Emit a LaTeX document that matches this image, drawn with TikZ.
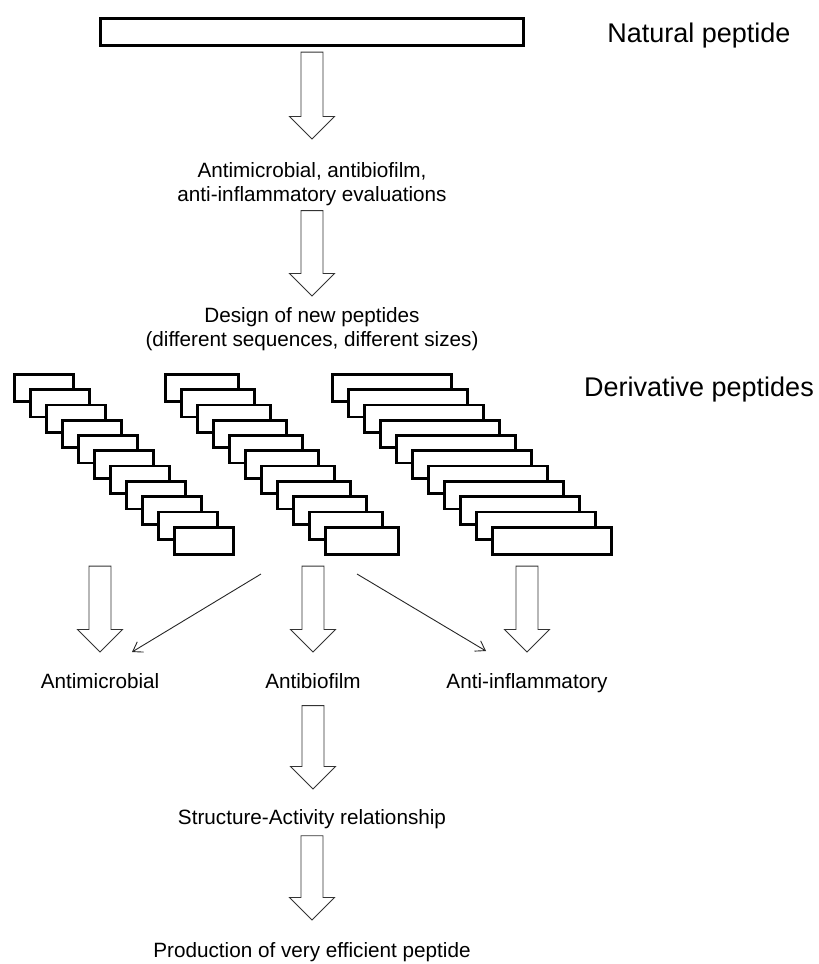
\documentclass[tikz,border=0pt]{standalone}
\usepackage{fontspec}
\setmainfont{Liberation Sans}
\usetikzlibrary{positioning}
\usetikzlibrary{calc}
\usetikzlibrary{arrows.meta}

\tikzset{
    pep/.style={draw, line width=2.7pt, fill=white, minimum height=27.5pt, inner sep=0pt},
    fat/.style={draw=black!80, line width=0.9pt, fill=white},
    lbl/.style={inner sep=0pt, anchor=north, align=center, font=\fontsize{20.7}{24}\selectfont},
    biglbl/.style={inner sep=0pt, anchor=north, font=\fontsize{27}{30}\selectfont},
    thinarrow/.style={-{Straight Barb[length=9pt, width=12pt]}, line width=0.9pt, black!85}
}

% block arrow pointing down, from #1 (top middle) to #2 (tip)
\newcommand{\fatarrow}[2]{%
    \draw[fat] let \p1=#1, \p2=#2 in
        (\x1-11pt,\y1) -- (\x1-11pt,\y2+22.5pt) -- (\x1-22.5pt,\y2+22.5pt)
        -- (\x1,\y2) -- (\x1+22.5pt,\y2+22.5pt) -- (\x1+11pt,\y2+22.5pt)
        -- (\x1+11pt,\y1) -- cycle;
}

\begin{document}
\begin{tikzpicture}[x=1pt, y=-1pt]
    \useasboundingbox (0,0) rectangle (819,964);

    \node[pep, minimum width=423.5pt] (bar) at (312,32) {};
    \node[biglbl] (natural) at (699,23) {Natural peptide};
    \node[lbl] (eval) at (312,162) {Antimicrobial, antibiofilm,\\anti-inflammatory evaluations};
    \node[lbl] (design) at (312,307) {Design of new peptides\\(different sequences, different sizes)};
    \node[biglbl] (deriv) at (699,377) {Derivative peptides};

    % the three stacks of derivative peptides
    \foreach \i in {0,...,10} {
        \node[pep, minimum width=59.5pt] (a\i) at (44+16*\i, 388+15.3*\i) {};
        \node[pep, minimum width=73.5pt] (b\i) at (202+16*\i, 388+15.3*\i) {};
        \node[pep, minimum width=118.5pt] (c\i) at (392+16*\i, 388+15.3*\i) {};
    }

    \node[lbl] (amp) at (100,673) {Antimicrobial};
    \node[lbl] (bio) at (313,673) {Antibiofilm};
    \node[lbl] (inf) at (527,673) {Anti-inflammatory};
    \node[lbl] (sar) at (312,809) {Structure-Activity relationship};
    \node[lbl] (prod) at (312,942) {Production of very efficient peptide};

    \fatarrow{($(bar.south)+(0,-5pt)$)}{($(eval.north)+(0,23pt)$)}
    \fatarrow{($(eval.south)+(0,-5pt)$)}{($(design.north)+(0,11pt)$)}
    \fatarrow{($(amp.north |- a10.south)+(0,-10pt)$)}{($(amp.north)+(0,21pt)$)}
    \fatarrow{($(bio.north |- b10.south)+(0,-10pt)$)}{($(bio.north)+(0,21pt)$)}
    \fatarrow{($(inf.north |- c10.south)+(0,-10pt)$)}{($(inf.north)+(0,21pt)$)}
    \fatarrow{($(bio.south)+(0,-17pt)$)}{($(sar.north)+(0,20pt)$)}
    \fatarrow{($(sar.south)+(0,-7pt)$)}{($(prod.north)+(0,22pt)$)}

    \draw[thinarrow] ($(bio.north)+(-52pt,99pt)$) -- ($(amp.north)+(32pt,21pt)$);
    \draw[thinarrow] ($(bio.north)+(44pt,99pt)$) -- ($(inf.north)+(-41pt,22pt)$);
\end{tikzpicture}
\end{document}
